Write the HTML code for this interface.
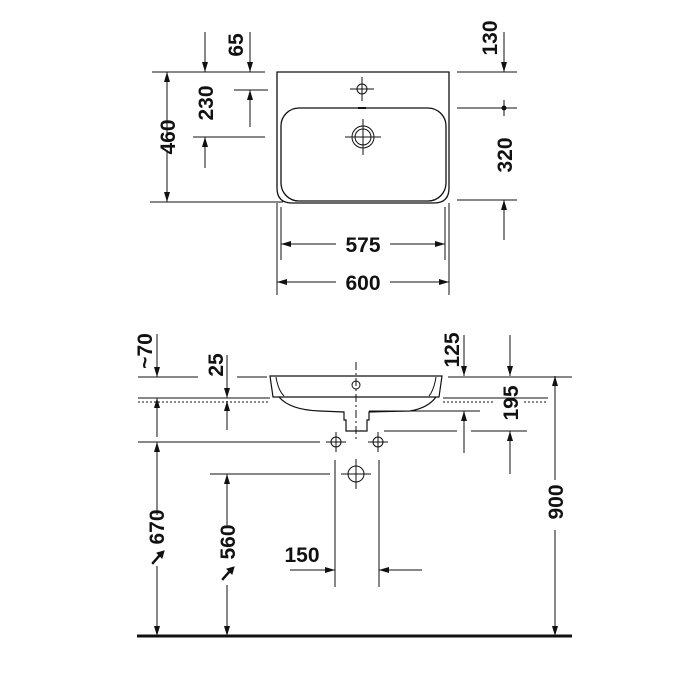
<!DOCTYPE html>
<html><head><meta charset="utf-8"><style>
html,body{margin:0;padding:0;background:#fff}
svg{display:block}
text{font-family:"Liberation Sans",sans-serif;font-weight:bold;font-size:21px;fill:#111}
</style></head><body>
<svg width="700" height="700" viewBox="0 0 700 700" xmlns="http://www.w3.org/2000/svg">
<defs>
<marker id="a" viewBox="0 0 10 6" refX="10" refY="3" markerWidth="10" markerHeight="6" markerUnits="userSpaceOnUse" orient="auto">
<path d="M0,0 L10,3 L0,6 Z" fill="#111"/></marker>
</defs>
<g stroke="#111" stroke-width="1" fill="none">
<path d="M277,72 L277,188 Q277,203 292,203 L434,203 Q449,203 449,188 L449,72 Z" stroke-width="1.3"/>
<rect x="281" y="108" width="165" height="93" rx="18" stroke-width="1.3"/>
<circle cx="362" cy="89" r="5"/>
<path d="M350,89h24M362,77v24"/>
<circle cx="363" cy="137" r="8"/><circle cx="363" cy="137" r="11"/>
<path d="M345,137h36M363,119v36"/>
<path d="M358,108h8" stroke-width="2"/>
<path d="M152,72H265M150,202H283M234,90H268M193,137H265"/>
<path d="M167,137V72" marker-end="url(#a)"/><path d="M167,150V202" marker-end="url(#a)"/>
<path d="M205,32V72" marker-end="url(#a)"/><path d="M250,32V72" marker-end="url(#a)"/>
<path d="M250,127V90" marker-end="url(#a)"/><path d="M205,168V137" marker-end="url(#a)"/>
<path d="M457,72H517M457,108H517M457,200H517M504,100V116"/>
<circle cx="504" cy="108" r="2" fill="#111"/>
<path d="M504,32V72" marker-end="url(#a)"/><path d="M504,240V200" marker-end="url(#a)"/>
<path d="M277,203V295M449,203V295M281,207V260M445,207V260"/>
<path d="M336,244H281" marker-end="url(#a)"/><path d="M390,244H445" marker-end="url(#a)"/>
<path d="M336,282H277" marker-end="url(#a)"/><path d="M390,282H449" marker-end="url(#a)"/>

<path d="M138,377H198M237,377H267M448,377H572"/>
<path d="M138,398H270M443,398H548"/>
<path d="M138,402H270M443,402H495M524,402H548" stroke-dasharray="2,2"/>
<path d="M270,376H442L439,397H273Z" stroke-width="1.2"/>
<path d="M276,377Q278,390 284,396M436,377Q434,390 429,396"/>
<path d="M279,397Q290,410 320,411L344,412V420H346V431H367V420H369V412L410,411Q428,408 436,397" stroke-width="1.2"/>
<circle cx="356" cy="385" r="4"/>
<path d="M356,362V440" stroke-dasharray="8,3,2,3"/>
<path d="M157,334V377" marker-end="url(#a)"/>
<path d="M157,437V398" marker-end="url(#a)"/>
<path d="M138,442H320"/>
<path d="M157,515V442" marker-end="url(#a)"/>
<path d="M157,566V636" marker-end="url(#a)"/>
<path d="M227,355V398" marker-end="url(#a)"/>
<path d="M227,430V401" marker-end="url(#a)"/>
<path d="M210,474H330"/>
<path d="M227,525V474" marker-end="url(#a)"/>
<path d="M227,585V636" marker-end="url(#a)"/>
<circle cx="336" cy="442" r="5"/><path d="M326,442h20M336,432v20"/>
<circle cx="378" cy="442" r="5"/><path d="M368,442h20M378,432v20"/>
<circle cx="356" cy="474" r="8"/><path d="M341,474h30M356,459v30"/>
<path d="M335,460V587M379,460V587"/>
<path d="M290,570H335" marker-end="url(#a)"/><path d="M422,570H379" marker-end="url(#a)"/>
<path d="M464,335V376" marker-end="url(#a)"/>
<path d="M510,335V376" marker-end="url(#a)"/>
<path d="M369,411H480M384,431H457M471,431H527"/>
<path d="M464,453V411" marker-end="url(#a)"/>
<path d="M510,474V431" marker-end="url(#a)"/>
<path d="M555,480V376" marker-end="url(#a)"/>
<path d="M555,530V636" marker-end="url(#a)"/>
<path d="M137,636H572" stroke-width="3"/>
</g>
<g fill="#111" stroke="#111" stroke-width="1">
<path d="M152,563 L159,555 L157,553 L164,551 L162,558 L160,556 L153,564Z"/>
<path d="M222,579 L229,571 L227,569 L234,567 L232,574 L230,572 L223,580Z"/>
</g>
<text transform="translate(175,137) rotate(-90)" text-anchor="middle">460</text>
<text transform="translate(243,45) rotate(-90)" text-anchor="middle">65</text>
<text transform="translate(213,103) rotate(-90)" text-anchor="middle">230</text>
<text transform="translate(497,38) rotate(-90)" text-anchor="middle">130</text>
<text transform="translate(512,155) rotate(-90)" text-anchor="middle">320</text>
<text x="363" y="252" text-anchor="middle">575</text>
<text x="363" y="290" text-anchor="middle">600</text>
<text transform="translate(152,351) rotate(-90)" text-anchor="middle">~70</text>
<text transform="translate(223,365) rotate(-90)" text-anchor="middle">25</text>
<text transform="translate(459,350) rotate(-90)" text-anchor="middle">125</text>
<text transform="translate(518,403) rotate(-90)" text-anchor="middle">195</text>
<text transform="translate(563,502) rotate(-90)" text-anchor="middle">900</text>
<text transform="translate(164,527) rotate(-90)" text-anchor="middle">670</text>
<text transform="translate(235,542) rotate(-90)" text-anchor="middle">560</text>
<text x="302" y="562" text-anchor="middle">150</text>
</svg>
</body></html>
